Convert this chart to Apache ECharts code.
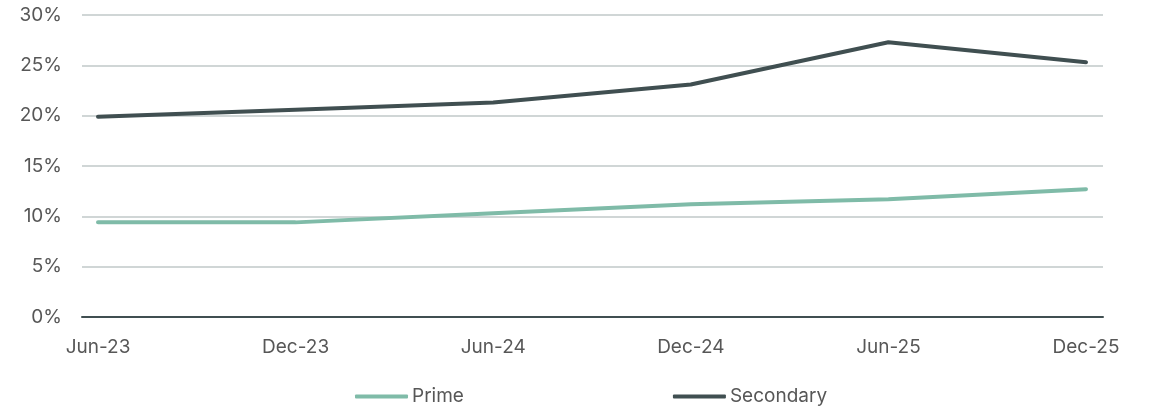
<!DOCTYPE html>
<html>
<head>
<meta charset="utf-8">
<script src="https://cdn.jsdelivr.net/npm/echarts@6/dist/echarts.min.js"></script>
<style>
  html, body { margin: 0; padding: 0; background: #ffffff; }
  #chart { width: 1150px; height: 409px; }
</style>
</head>
<body>
<div id="chart"></div>
<script>
// Half-year periods on the horizontal axis
const periods = ['Jun-23', 'Dec-23', 'Jun-24', 'Dec-24', 'Jun-25', 'Dec-25'];
// Rates in percent
const prime = [9.4, 9.4, 10.3, 11.2, 11.7, 12.7];
const secondary = [19.9, 20.6, 21.3, 23.1, 27.3, 25.3];
// Vertical axis ticks (percent)
const yTicks = [0, 5, 10, 15, 20, 25, 30];

const textColor = '#575757';
const font = 'Inter, "Noto Sans", sans-serif';

const chart = echarts.init(document.getElementById('chart'), null, { renderer: 'canvas' });

const toPairs = arr => arr.map((v, i) => [i, v]);

chart.setOption({
  animation: false,
  backgroundColor: '#ffffff',
  grid: { left: 82, right: 47, top: 15, bottom: 92, containLabel: false },
  xAxis: {
    type: 'value',
    min: -0.081,
    max: 5.086,
    axisLine: { show: true, onZero: false, lineStyle: { color: '#404f51', width: 2 } },
    axisTick: { show: false },
    splitLine: { show: false },
    axisLabel: {
      customValues: periods.map((p, i) => i),
      formatter: v => periods[Math.round(v)],
      color: textColor,
      fontFamily: font,
      fontSize: 19,
      margin: 21
    }
  },
  yAxis: {
    type: 'value',
    min: yTicks[0],
    max: yTicks[yTicks.length - 1],
    interval: 5,
    axisLine: { show: false },
    axisTick: { show: false },
    splitLine: { lineStyle: { color: '#d0d6d6', width: 2 } },
    axisLabel: {
      formatter: v => v + '%',
      color: textColor,
      fontFamily: font,
      fontSize: 19,
      margin: 20
    }
  },
  legend: {
    left: 350,
    bottom: -2,
    itemWidth: 53,
    itemHeight: 4,
    itemGap: 209,
    icon: 'roundRect',
    textStyle: { color: textColor, fontFamily: font, fontSize: 19, padding: [0, 0, 0, -1] },
    data: ['Prime', 'Secondary']
  },
  series: [
    {
      name: 'Prime',
      type: 'line',
      data: toPairs(prime),
      showSymbol: false,
      symbol: 'none',
      lineStyle: { color: '#7fbba8', width: 4, cap: 'round', join: 'round' },
      itemStyle: { color: '#7fbba8' },
      z: 3
    },
    {
      name: 'Secondary',
      type: 'line',
      data: toPairs(secondary),
      showSymbol: false,
      symbol: 'none',
      lineStyle: { color: '#404f51', width: 4, cap: 'round', join: 'round' },
      itemStyle: { color: '#404f51' },
      z: 3
    }
  ]
});
</script>
</body>
</html>
